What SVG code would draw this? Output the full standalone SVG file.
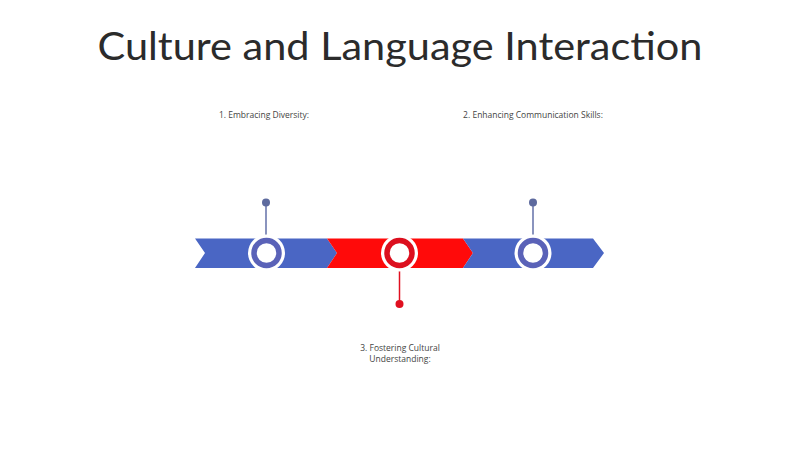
<svg xmlns="http://www.w3.org/2000/svg" width="800" height="449" viewBox="0 0 800 449">
<style>
.title{font-family:Lato,"Open Sans","Liberation Sans",sans-serif;font-size:39px;fill:#2b2b2b;text-anchor:middle}
.lbl{font-family:"Open Sans","Liberation Sans",sans-serif;font-size:8.5px;fill:#444;text-anchor:middle}
.blue{fill:#4a66c4}
.red{fill:#ff0a0a}
.halo{fill:#ffffff}
.ringb{fill:#ffffff;stroke:#5a62b8;stroke-width:5.5}
.ringr{fill:#ffffff;stroke:#dc0f1e;stroke-width:5.5}
.pinb{stroke:#6370a8;stroke-width:1.5}
.pinr{stroke:#e01020;stroke-width:1.5}
</style>
<rect width="800" height="449" fill="#ffffff"/>
<text class="title" x="400" y="60" textLength="605" lengthAdjust="spacingAndGlyphs">Culture and Language Interaction</text>
<g id="band">
<polygon class="blue" points="195,238.5 327,238.5 337,253 327,268 195,268 205,253"/>
<polygon class="red" points="327,238.5 463,238.5 473,253 463,268 327,268 337,253"/>
<polygon class="blue" points="463,238.5 593,238.5 604,253 593,268 463,268 473,253"/>
</g>
<g id="connectors">
<line class="pinb" x1="266" y1="203" x2="266" y2="238"/>
<circle cx="266" cy="202.5" r="4" fill="#5d6a9e"/>
<line class="pinr" x1="399.5" y1="268" x2="399.5" y2="303"/>
<circle cx="399.5" cy="304" r="4" fill="#e01020"/>
<line class="pinb" x1="533" y1="203" x2="533" y2="238"/>
<circle cx="533" cy="202.5" r="4" fill="#5d6a9e"/>
</g>
<g id="node1">
<circle class="halo" cx="266.5" cy="253" r="18.5"/>
<circle class="ringb" cx="266.5" cy="253" r="12.5"/>
<text class="lbl" x="264" y="118">1. Embracing Diversity:</text>
</g>
<g id="node2">
<circle class="halo" cx="399.5" cy="253" r="18.5"/>
<circle class="ringr" cx="399.5" cy="253" r="12.5"/>
<text class="lbl" x="400" y="351">3. Fostering Cultural</text>
<text class="lbl" x="400" y="362">Understanding:</text>
</g>
<g id="node3">
<circle class="halo" cx="533" cy="253" r="18.5"/>
<circle class="ringb" cx="533" cy="253" r="12.5"/>
<text class="lbl" x="533" y="118">2. Enhancing Communication Skills:</text>
</g>
</svg>
